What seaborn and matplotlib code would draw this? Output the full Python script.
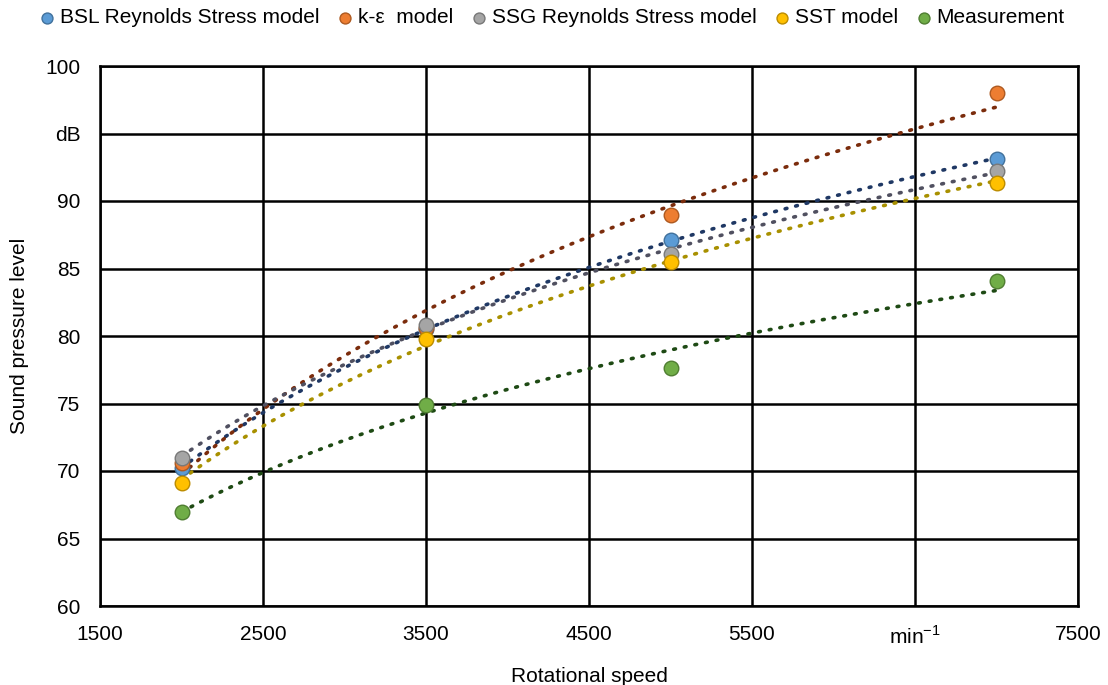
import numpy as np
import pandas as pd
import matplotlib
matplotlib.use("Agg")
import matplotlib.pyplot as plt
import seaborn as sns

speeds = [2000, 3500, 5000, 7000]
series_names = ["BSL Reynolds Stress model", "k-ε  model", "SSG Reynolds Stress model", "SST model", "Measurement"]
bsl = [70.2, 80.5, 87.1, 93.1]
keps = [70.6, 80.6, 89.0, 98.0]
ssg = [71.0, 80.8, 86.1, 92.2]
sst = [69.1, 79.8, 85.5, 91.3]
meas = [67.0, 74.9, 77.6, 84.1]
values = [bsl, keps, ssg, sst, meas]

marker_colors = ["#5B9BD5", "#ED7D31", "#A5A5A5", "#FFC000", "#70AD47"]
edge_colors = ["#41719C", "#AE5A21", "#787878", "#BC8C00", "#507E32"]
trend_colors = ["#1F3864", "#7B2C0C", "#505060", "#A89000", "#1E4A14"]

xticks = [1500, 2500, 3500, 4500, 5500, 6500, 7500]
xticklabels = ["1500", "2500", "3500", "4500", "5500", "min$^{\\mathregular{-1}}$", "7500"]
yticks = [60, 65, 70, 75, 80, 85, 90, 95, 100]
yticklabels = ["60", "65", "70", "75", "80", "85", "90", "dB", "100"]

sns.set_theme(style="white")
plt.rcParams["font.family"] = ["Liberation Sans", "DejaVu Sans"]
plt.rcParams["text.color"] = "black"
plt.rcParams["axes.labelcolor"] = "black"

df = pd.DataFrame({
    "speed": np.tile(speeds, len(series_names)),
    "spl": np.concatenate(values),
    "series": np.repeat(series_names, len(speeds)),
})

fig = plt.figure(figsize=(11.08, 6.85), dpi=100)
ax = fig.add_axes([100/1108, 1-606/685, (1078-100)/1108, (606-66)/685])

# logarithmic trendlines
xs = np.linspace(speeds[0], speeds[-1], 200)
trend_rows = []
for name, vals in zip(series_names, values):
    a, b = np.polyfit(np.log(speeds), vals, 1)
    trend_rows.append(pd.DataFrame({"speed": xs, "spl": a*np.log(xs)+b, "series": name}))
tdf = pd.concat(trend_rows)
for name, tc in zip(series_names, trend_colors):
    sns.lineplot(data=tdf[tdf.series == name], x="speed", y="spl", color=tc,
                 linestyle=(0, (0.5, 2.5)), linewidth=2.6, dash_capstyle="round",
                 ax=ax, legend=False, zorder=3)

for name, mc, ec in zip(series_names, marker_colors, edge_colors):
    sns.scatterplot(data=df[df.series == name], x="speed", y="spl", color=mc,
                    edgecolor=ec, linewidth=1, s=110, ax=ax, zorder=4, label=name)

ax.set_xlim(1500, 7500)
ax.set_ylim(60, 100)
ax.set_xticks(xticks)
ax.set_xticklabels(xticklabels)
ax.set_yticks(yticks)
ax.set_yticklabels(yticklabels)
ax.grid(True, color="black", linewidth=1.8)
ax.set_axisbelow(True)
for sp in ax.spines.values():
    sp.set_color("black")
    sp.set_linewidth(1.8)
ax.tick_params(axis="both", labelsize=15, colors="black", length=0, pad=14)
ax.set_xlabel("Rotational speed", fontsize=15, labelpad=14)
ax.set_ylabel("Sound pressure level", fontsize=15, labelpad=12)

handles, labels = ax.get_legend_handles_labels()
ax.legend(handles, labels, loc="lower center", bbox_to_anchor=(0.463, 1.0), ncol=5,
          frameon=False, fontsize=15, handlelength=0.6, handletextpad=0.3,
          columnspacing=0.95, markerscale=0.75, borderaxespad=1.45)

fig.savefig("out.png", dpi=100)
